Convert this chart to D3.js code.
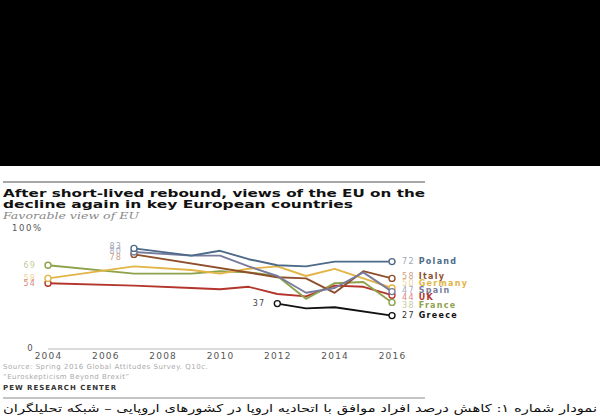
<!DOCTYPE html>
<html><head><meta charset="utf-8">
<script src="https://cdn.jsdelivr.net/npm/d3@7"></script>
<style>
body{margin:0;background:#fff;}
svg{display:block;}
</style></head>
<body>
<svg id="c" width="600" height="418"></svg>
<script>
const titleLines = ["After short-lived rebound, views of the EU on the", "decline again in key European countries"];
const subtitle = "Favorable view of EU";
const xTicks = [2004, 2006, 2008, 2010, 2012, 2014, 2016];
const yTickLabels = ["0", "100%"];
const sourceLines = ["Source: Spring 2016 Global Attitudes Survey. Q10c.", "\u201cEuroskepticism Beyond Brexit\u201d"];
const credit = "PEW RESEARCH CENTER";
const caption = "نمودار شماره ۱: کاهش درصد افراد موافق با اتحادیه اروپا در کشورهای اروپایی – شبکه تحلیلگران";

const countries = ["Poland", "Italy", "Germany", "Spain", "UK", "France", "Greece"];
const colors = ["#4d6a88", "#8f4f2c", "#e3b446", "#787c9c", "#b3352b", "#8ea24c", "#111111"];
const labelColors = ["#9aa8b8", "#c9a08a", "#efd49a", "#a9abc0", "#d68a84", "#c3cd9c", "#444444"];
const years = {
  Poland:  [2007, 2009, 2010, 2011, 2012, 2013, 2014, 2015, 2016],
  Italy:   [2007, 2012, 2013, 2014, 2015, 2016],
  Germany: [2004, 2007, 2009, 2010, 2011, 2012, 2013, 2014, 2015, 2016],
  Spain:   [2007, 2009, 2010, 2011, 2012, 2013, 2014, 2015, 2016],
  UK:      [2004, 2007, 2009, 2010, 2011, 2012, 2013, 2014, 2015, 2016],
  France:  [2004, 2007, 2009, 2010, 2011, 2012, 2013, 2014, 2015, 2016],
  Greece:  [2012, 2013, 2014, 2016]
};
const poland  = [83, 77, 81, 74, 69, 68, 72, 72, 72];
const italy   = [78, 59, 58, 46, 64, 58];
const germany = [58, 68, 65, 62, 66, 68, 60, 66, 58, 50];
const spain   = [80, 77, 77, 68, 60, 46, 50, 63, 47];
const uk      = [54, 52, 50, 49, 51, 45, 43, 52, 51, 44];
const france  = [69, 62, 62, 64, 63, 60, 41, 54, 55, 38];
const greece  = [37, 33, 34, 27];
const values = {Poland: poland, Italy: italy, Germany: germany, Spain: spain, UK: uk, France: france, Greece: greece};
const drawOrder = ["Greece", "UK", "France", "Germany", "Italy", "Spain", "Poland"];

const svg = d3.select("#c");
const FONT = "DejaVu Sans, sans-serif";

// top black panel
svg.append("rect").attr("x", 0).attr("y", 0).attr("width", 600).attr("height", 166).attr("fill", "#000");

svg.append("line").attr("x1", 3).attr("x2", 425).attr("y1", 182).attr("y2", 182)
  .attr("stroke", "#8a8a8a").attr("stroke-width", 1.5);

const tl = [425, 353];
titleLines.forEach((t, i) => {
  svg.append("text").attr("x", 3).attr("y", 197 + i * 11)
    .attr("font-family", FONT).attr("font-weight", "bold").attr("font-size", 10)
    .attr("fill", "#111").attr("textLength", tl[i] - 3).attr("lengthAdjust", "spacingAndGlyphs").text(t);
});
svg.append("text").attr("x", 3).attr("y", 218.5)
  .attr("font-family", "DejaVu Serif, serif").attr("font-style", "italic").attr("font-size", 8.5)
  .attr("fill", "#888").attr("textLength", 136).attr("lengthAdjust", "spacingAndGlyphs").text(subtitle);

const x = d3.scaleLinear().domain([2004, 2016]).range([48, 392]);
const y = d3.scaleLinear().domain([0, 100]).range([348, 228]);

// baseline
svg.append("line").attr("x1", x(2004)).attr("x2", x(2016)).attr("y1", y(0) + 1).attr("y2", y(0) + 1)
  .attr("stroke", "#cfcfcf").attr("stroke-width", 1.5);

// y labels
svg.append("text").attr("x", 30).attr("y", y(0)).attr("dy", "0.35em").attr("text-anchor", "middle")
  .attr("font-family", FONT).attr("font-size", 8.5).attr("fill", "#555").text(yTickLabels[0]);
svg.append("text").attr("x", 12).attr("y", y(100)).attr("dy", "0.35em")
  .attr("font-family", FONT).attr("font-size", 8.5).attr("fill", "#555").attr("letter-spacing", 1.6).text(yTickLabels[1]);

// x axis
const xAxis = d3.axisBottom(x).tickValues(xTicks).tickFormat(d3.format("d")).tickSize(0).tickPadding(0);
const gx = svg.append("g").attr("transform", `translate(0,${y(0) + 5})`).call(xAxis);
gx.select(".domain").remove();
gx.selectAll("text").attr("font-family", FONT).attr("font-size", 9).attr("fill", "#555")
  .attr("letter-spacing", 1.2).attr("dy", "0.71em");

const line = d3.line().x(d => x(d[0])).y(d => y(d[1]));

drawOrder.forEach(c => {
  const i = countries.indexOf(c);
  const pts = years[c].map((yr, k) => [yr, values[c][k]]);
  svg.append("path").datum(pts).attr("d", line).attr("fill", "none")
    .attr("stroke", colors[i]).attr("stroke-width", 1.9).attr("stroke-linejoin", "round");
  [pts[0], pts[pts.length - 1]].forEach(p => {
    svg.append("circle").attr("cx", x(p[0])).attr("cy", y(p[1])).attr("r", 3)
      .attr("fill", "#fff").attr("stroke", colors[i]).attr("stroke-width", 1.4);
  });
});

function dodge(items, gap) {
  items.sort((a, b) => a.y - b.y);
  for (let iter = 0; iter < 300; iter++) {
    let moved = false;
    for (let k = 1; k < items.length; k++) {
      const d = items[k].y - items[k - 1].y;
      if (d < gap - 1e-6) {
        const s = (gap - d) / 2;
        items[k].y += s; items[k - 1].y -= s; moved = true;
      }
    }
    if (!moved) break;
  }
  return items;
}

// end labels
const endItems = dodge(countries.map((c, i) => {
  const v = values[c][values[c].length - 1];
  return {c, i, v, y: y(v)};
}), 7.2);
endItems.forEach(o => {
  const t = svg.append("text").attr("x", x(2016) + 10).attr("y", o.y - 0.8).attr("dy", "0.35em")
    .attr("font-family", FONT).attr("font-size", 8).attr("letter-spacing", 1.3);
  t.append("tspan").attr("fill", o.c === "Greece" ? "#333" : labelColors[o.i]).text(o.v + " ");
  t.append("tspan").attr("fill", colors[o.i]).attr("font-weight", "bold").text(o.c);
});

// start labels
const starts = countries.map((c, i) => ({c, i, yr: years[c][0], v: values[c][0]}));
const groups = d3.group(starts, d => d.yr);
groups.forEach((arr, yr) => {
  const items = dodge(arr.map(o => Object.assign({}, o, {y: y(o.v)})), 5.6);
  items.forEach(o => {
    svg.append("text").attr("x", x(yr) - 12).attr("y", o.y).attr("dy", "0.35em").attr("text-anchor", "end")
      .attr("font-family", FONT).attr("font-size", 8).attr("letter-spacing", 1.2)
      .attr("fill", o.c === "Greece" ? "#444" : labelColors[o.i]).text(o.v);
  });
});

// source
sourceLines.forEach((s, i) => {
  svg.append("text").attr("x", 3).attr("y", 368.5 + i * 10.5)
    .attr("font-family", FONT).attr("font-size", 7).attr("letter-spacing", 0.5).attr("fill", "#aaa").text(s);
});
svg.append("text").attr("x", 3).attr("y", 390).attr("font-family", FONT).attr("font-weight", "bold")
  .attr("font-size", 7).attr("letter-spacing", 1.0).attr("fill", "#333").text(credit);

svg.append("line").attr("x1", 3).attr("x2", 425).attr("y1", 398).attr("y2", 398)
  .attr("stroke", "#8a8a8a").attr("stroke-width", 1.2);

svg.append("text").attr("x", 597).attr("y", 412).attr("direction", "rtl").attr("text-anchor", "start")
  .attr("font-family", FONT).attr("font-size", 11).attr("fill", "#111")
  .attr("textLength", 594).attr("lengthAdjust", "spacingAndGlyphs").text(caption);
</script>
</body></html>
